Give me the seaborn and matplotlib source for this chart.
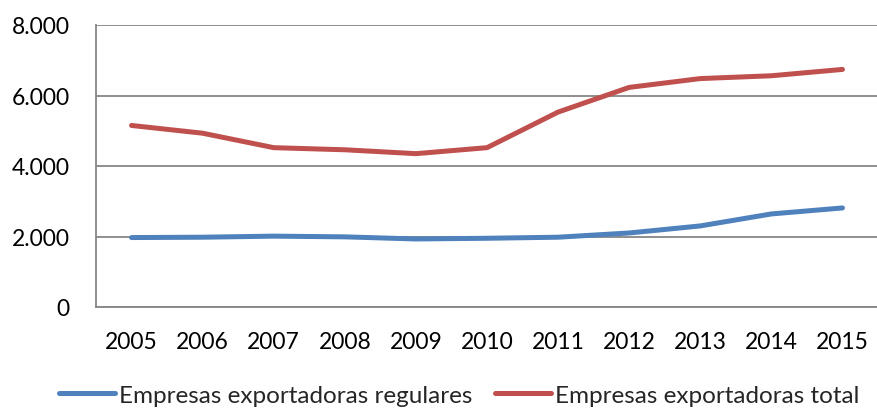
import matplotlib
matplotlib.use("Agg")
import matplotlib.pyplot as plt
import seaborn as sns
import pandas as pd

years = ["2005", "2006", "2007", "2008", "2009", "2010", "2011", "2012", "2013", "2014", "2015"]
regulares = [1970, 1980, 2010, 1990, 1930, 1950, 1980, 2100, 2300, 2640, 2810]
total = [5150, 4930, 4520, 4460, 4350, 4520, 5530, 6230, 6480, 6560, 6740]
series_names = ["Empresas exportadoras regulares", "Empresas exportadoras total"]
yticks = [0, 2000, 4000, 6000, 8000]
ytick_labels = ["0", "2.000", "4.000", "6.000", "8.000"]

df = pd.DataFrame({
    "year": years * 2,
    "x": list(range(len(years))) * 2,
    "value": regulares + total,
    "serie": [series_names[0]] * len(years) + [series_names[1]] * len(years),
})

sns.set_style("white")
plt.rcParams["font.family"] = ["Lato", "DejaVu Sans"]

fig = plt.figure(figsize=(8.78, 4.10), dpi=100)
ax = fig.add_axes([96 / 878, 1 - 308 / 410, 1 - 96 / 878, (308 - 26) / 410])

palette = {series_names[0]: "#4F81BD", series_names[1]: "#C0504D"}
sns.lineplot(data=df, x="x", y="value", hue="serie", palette=palette, ax=ax,
             linewidth=3.6, legend=True, solid_capstyle="round")

ax.set_xlim(-0.5, len(years) - 0.5)
ax.set_ylim(0, 8000)
ax.set_xticks(range(len(years)))
ax.set_xticklabels(years)
ax.set_yticks(yticks)
ax.set_yticklabels(ytick_labels)
ax.set_xlabel("")
ax.set_ylabel("")
ax.tick_params(axis="both", length=0, labelsize=16.5, colors="black")
ax.tick_params(axis="x", pad=17)
ax.tick_params(axis="y", pad=19)
ax.yaxis.grid(True, color="#868686", linewidth=1.3)
ax.xaxis.grid(False)
for s in ["top", "right"]:
    ax.spines[s].set_visible(False)
for s in ["left", "bottom"]:
    ax.spines[s].set_color("#868686")
    ax.spines[s].set_linewidth(1.3)

handles, labels = ax.get_legend_handles_labels()
ax.get_legend().remove()
fig.legend(handles, labels, loc="lower center", bbox_to_anchor=(0.523, -0.045), ncol=2,
           frameon=False, fontsize=17.5, handlelength=2.3, handletextpad=0.2,
           columnspacing=0.9)

fig.savefig("out.png", dpi=100)
